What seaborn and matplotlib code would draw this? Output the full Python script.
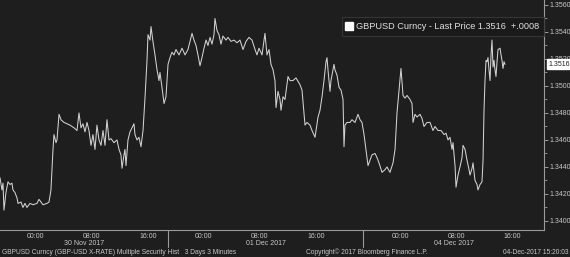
import matplotlib
matplotlib.use("Agg")
import matplotlib.pyplot as plt
from matplotlib.lines import Line2D
from matplotlib.ticker import FixedLocator, MultipleLocator, FormatStrFormatter
import seaborn as sns
import pandas as pd

# ---------------- data ----------------
# x: trading-hour position on the chart axis (0 = 30 Nov 2017 00:00, weekend compressed)
hours = [-5.14, -4.86, -4.71, -4.57, -4.29, -4.0, -3.71, -3.43, -3.29, -3.0,
         -2.71, -2.57, -2.14, -1.86, -1.57, -1.29, -0.86, -0.43, 0.14, 0.43,
         0.86, 1.0, 1.57, 1.86, 2.14, 2.29, 2.43, 2.57, 2.86, 3.0,
         3.29, 3.57, 4.0, 4.43, 4.86, 5.43, 5.86, 6.14, 6.43, 6.71,
         7.0, 7.29, 7.57, 7.86, 8.14, 8.43, 8.71, 9.0, 9.29, 9.57,
         9.86, 10.14, 10.43, 10.71, 11.14, 11.57, 11.86, 12.14, 12.29, 12.57,
         12.71, 12.86, 13.14, 13.43, 13.71, 14.0, 14.14, 14.43, 14.71, 15.0,
         15.29, 15.57, 15.86, 16.0, 16.29, 16.43, 16.71, 17.0, 17.29, 17.57,
         17.71, 18.0, 18.29, 18.57, 18.86, 19.14, 19.43, 19.71, 20.0, 20.43,
         20.86, 21.29, 21.71, 22.0, 22.29, 22.57, 22.86, 23.14, 23.43, 23.71,
         24.0, 24.29, 24.57, 24.86, 25.14, 25.43, 25.57, 25.86, 26.14, 26.43,
         26.71, 27.14, 27.43, 27.86, 28.29, 28.71, 29.14, 29.57, 30.0, 30.43,
         30.86, 31.29, 31.57, 31.86, 32.29, 32.71, 33.0, 33.29, 33.57, 33.86,
         34.14, 34.29, 34.57, 34.86, 35.0, 35.29, 35.57, 36.0, 36.29, 36.71,
         37.14, 37.71, 38.0, 38.29, 38.43, 38.71, 39.14, 39.43, 39.86, 40.29,
         40.57, 40.86, 41.14, 41.43, 41.57, 41.71, 42.0, 42.14, 42.57, 42.71,
         43.0, 43.29, 43.57, 43.86, 44.0, 44.14, 44.43, 44.86, 45.14, 45.57,
         46.0, 46.29, 46.57, 46.86, 47.14, 47.43, 47.71, 48.0, 48.43, 48.71,
         49.0, 49.43, 49.86, 50.14, 50.57, 51.0, 51.29, 51.57, 51.86, 52.14,
         52.43, 52.71, 53.0, 53.43, 53.71, 53.86, 54.14, 54.43, 54.86, 55.14,
         55.43, 55.86, 56.29, 56.71, 57.0, 57.43, 57.86, 58.29, 58.57, 58.86,
         59.14, 59.43, 59.57, 59.86, 60.0, 60.29, 60.57, 60.86, 61.0, 61.29,
         61.57, 61.86, 62.0, 62.29, 62.43, 62.71, 63.0, 63.14, 63.43, 63.71,
         63.86, 64.0, 64.14, 64.29, 64.43, 64.57, 64.71, 64.86, 65.0, 65.14,
         65.29, 65.43, 65.57, 65.71, 65.86, 66.0, 66.29, 66.43, 66.57, 66.71,
         66.86, 67.0]
price = [1.3432, 1.3423, 1.3428, 1.3408, 1.3421, 1.3429, 1.3427, 1.3428, 1.3423, 1.3421,
         1.3417, 1.3413, 1.3414, 1.3410, 1.3413, 1.3410, 1.3413, 1.3412, 1.3413, 1.3416,
         1.3413, 1.3412, 1.3413, 1.3414, 1.3423, 1.3438, 1.3453, 1.3464, 1.3458, 1.3460,
         1.3479, 1.3475, 1.3473, 1.3472, 1.3471, 1.3469, 1.3467, 1.3480, 1.3469, 1.3472,
         1.3466, 1.3473, 1.3467, 1.3456, 1.3464, 1.3453, 1.3471, 1.3460, 1.3456, 1.3467,
         1.3456, 1.3475, 1.3460, 1.3461, 1.3458, 1.3460, 1.3453, 1.3449, 1.3439, 1.3449,
         1.3453, 1.3441, 1.3460, 1.3466, 1.3469, 1.3472, 1.3464, 1.3460, 1.3462, 1.3455,
         1.3467, 1.3491, 1.3519, 1.3538, 1.3534, 1.3544, 1.3533, 1.3523, 1.3512, 1.3504,
         1.3510, 1.3499, 1.3487, 1.3492, 1.3516, 1.3521, 1.3525, 1.3523, 1.3527, 1.3523,
         1.3528, 1.3523, 1.3527, 1.3533, 1.3539, 1.3534, 1.3530, 1.3523, 1.3515, 1.3521,
         1.3528, 1.3534, 1.3530, 1.3536, 1.3531, 1.3538, 1.3550, 1.3541, 1.3538, 1.3531,
         1.3537, 1.3534, 1.3536, 1.3533, 1.3534, 1.3532, 1.3534, 1.3527, 1.3533, 1.3536,
         1.3534, 1.3527, 1.3523, 1.3528, 1.3523, 1.3539, 1.3523, 1.3527, 1.3516, 1.3512,
         1.3504, 1.3484, 1.3496, 1.3490, 1.3482, 1.3492, 1.3490, 1.3507, 1.3504, 1.3504,
         1.3506, 1.3501, 1.3497, 1.3479, 1.3471, 1.3473, 1.3471, 1.3467, 1.3462, 1.3477,
         1.3482, 1.3492, 1.3504, 1.3518, 1.3521, 1.3512, 1.3496, 1.3504, 1.3516, 1.3512,
         1.3508, 1.3499, 1.3497, 1.3490, 1.3455, 1.3471, 1.3473, 1.3473, 1.3475, 1.3473,
         1.3479, 1.3475, 1.3473, 1.3464, 1.3453, 1.3441, 1.3445, 1.3449, 1.3450, 1.3447,
         1.3443, 1.3436, 1.3438, 1.3440, 1.3436, 1.3443, 1.3453, 1.3480, 1.3497, 1.3513,
         1.3493, 1.3491, 1.3493, 1.3490, 1.3487, 1.3473, 1.3479, 1.3477, 1.3479, 1.3476,
         1.3470, 1.3473, 1.3473, 1.3467, 1.3470, 1.3467, 1.3467, 1.3464, 1.3465, 1.3460,
         1.3462, 1.3453, 1.3458, 1.3441, 1.3425, 1.3434, 1.3440, 1.3447, 1.3456, 1.3453,
         1.3445, 1.3438, 1.3434, 1.3439, 1.3443, 1.3430, 1.3427, 1.3423, 1.3427, 1.3429,
         1.3445, 1.3482, 1.3504, 1.3519, 1.3518, 1.3521, 1.3512, 1.3504, 1.3523, 1.3534,
         1.3514, 1.3519, 1.3512, 1.3507, 1.3518, 1.3527, 1.3528, 1.3523, 1.3519, 1.3513,
         1.3518, 1.3516]

xtick_pos = [0, 8, 16, 24, 32, 40, 52, 60, 68]
xtick_labels = ["00:00", "08:00", "16:00", "00:00", "08:00", "16:00", "00:00", "08:00", "16:00"]
xminor_pos = [-4, 4, 12, 20, 28, 36, 44, 56, 64]
day_breaks = [18.9, 46.7]
day_labels = ["30 Nov 2017", "01 Dec 2017", "04 Dec 2017"]
last_price = 1.3516
legend_text = "GBPUSD Curncy - Last Price 1.3516  +.0008"
footer_left = "GBPUSD Curncy (GBP-USD X-RATE) Multiple Security Hist   3 Days 3 Minutes"
footer_mid = "Copyright\u00a9 2017 Bloomberg Finance L.P."
footer_right = "04-Dec-2017 15:20:03"

# ---------------- style ----------------
BG = "#1e1e1e"
FG = "#c8c8c8"
LINE = "#d2d2d2"
sns.set_style("dark", {"axes.facecolor": BG, "figure.facecolor": BG})
plt.rcParams["font.family"] = ["Liberation Sans", "DejaVu Sans"]

fig = plt.figure(figsize=(5.70, 2.57), dpi=100)
fig.patch.set_facecolor(BG)
ax = fig.add_axes([0.0, 0.1051, 0.9544, 0.8949])
ax.set_facecolor(BG)

df = pd.DataFrame({"hours": hours, "price": price})
sns.lineplot(data=df, x="hours", y="price", ax=ax, color=LINE, lw=0.75)

x0, x1 = -5.14, 72.57
ax.set_xlim(x0, x1)
ax.set_ylim(1.33933, 1.35637)
ax.grid(False)

for s in ["left", "top"]:
    ax.spines[s].set_visible(False)
for s in ["right", "bottom"]:
    ax.spines[s].set_color("#9a9a9a")
    ax.spines[s].set_linewidth(0.8)

ax.yaxis.tick_right()
ax.yaxis.set_label_position("right")
ax.yaxis.set_major_locator(MultipleLocator(0.002))
ax.yaxis.set_minor_locator(MultipleLocator(0.001))
ax.yaxis.set_major_formatter(FormatStrFormatter("%.4f"))
ax.tick_params(axis="y", which="major", direction="out", length=3, width=0.7,
               colors="#9a9a9a", labelcolor=FG, labelsize=5, pad=1)
ax.tick_params(axis="y", which="minor", direction="out", length=2, width=0.6, colors="#9a9a9a")

ax.set_xticks(xtick_pos)
ax.set_xticklabels(xtick_labels)
ax.xaxis.set_minor_locator(FixedLocator(xminor_pos))
ax.tick_params(axis="x", which="major", length=0, labelcolor=FG, labelsize=5, pad=2)
ax.tick_params(axis="x", which="minor", direction="out", length=2, width=0.6, colors="#9a9a9a")
ax.set_xlabel("")
ax.set_ylabel("")

# day separators and date labels
trans = ax.get_xaxis_transform()
for b in day_breaks:
    ax.plot([b, b], [0, -0.075], transform=trans, color="#9a9a9a", lw=0.8, clip_on=False)
bounds = [x0] + day_breaks + [x1]
for i, lab in enumerate(day_labels):
    c = (bounds[i] + bounds[i + 1]) / 2
    ax.text(c, -0.058, lab, transform=trans, ha="center", va="center", color=FG, fontsize=5)

# legend
handle = Line2D([], [], marker="s", color="none", markerfacecolor="white",
                markeredgecolor="white", markersize=5.2)
leg = ax.legend([handle], [legend_text], loc="upper right", bbox_to_anchor=(1.0, 0.926),
                frameon=True, fontsize=6.6, handlelength=0.6, handletextpad=0.4,
                borderpad=0.55, borderaxespad=0.0, fancybox=False)
leg.get_frame().set_facecolor("#1a1a1a")
leg.get_frame().set_edgecolor("#3c3c3c")
leg.get_frame().set_linewidth(0.8)
for t in leg.get_texts():
    t.set_color("#e0e0e0")

# last price tag
tag = ax.annotate(f"{last_price:.4f}", xy=(1.0, last_price), xycoords=("axes fraction", "data"),
                  xytext=(3, 0), textcoords="offset points", ha="left", va="center",
                  fontsize=5, color="#1e1e1e",
                  bbox=dict(boxstyle="square,pad=0.2", fc="white", ec="white"),
                  annotation_clip=False, zorder=10)

# footer
fig.text(0.003, 0.004, footer_left, color=FG, fontsize=4.8, ha="left", va="bottom")
fig.text(0.537, 0.004, footer_mid, color=FG, fontsize=4.8, ha="left", va="bottom")
fig.text(0.997, 0.004, footer_right, color=FG, fontsize=4.8, ha="right", va="bottom")

fig.savefig("out.png", dpi=100, facecolor=BG)
